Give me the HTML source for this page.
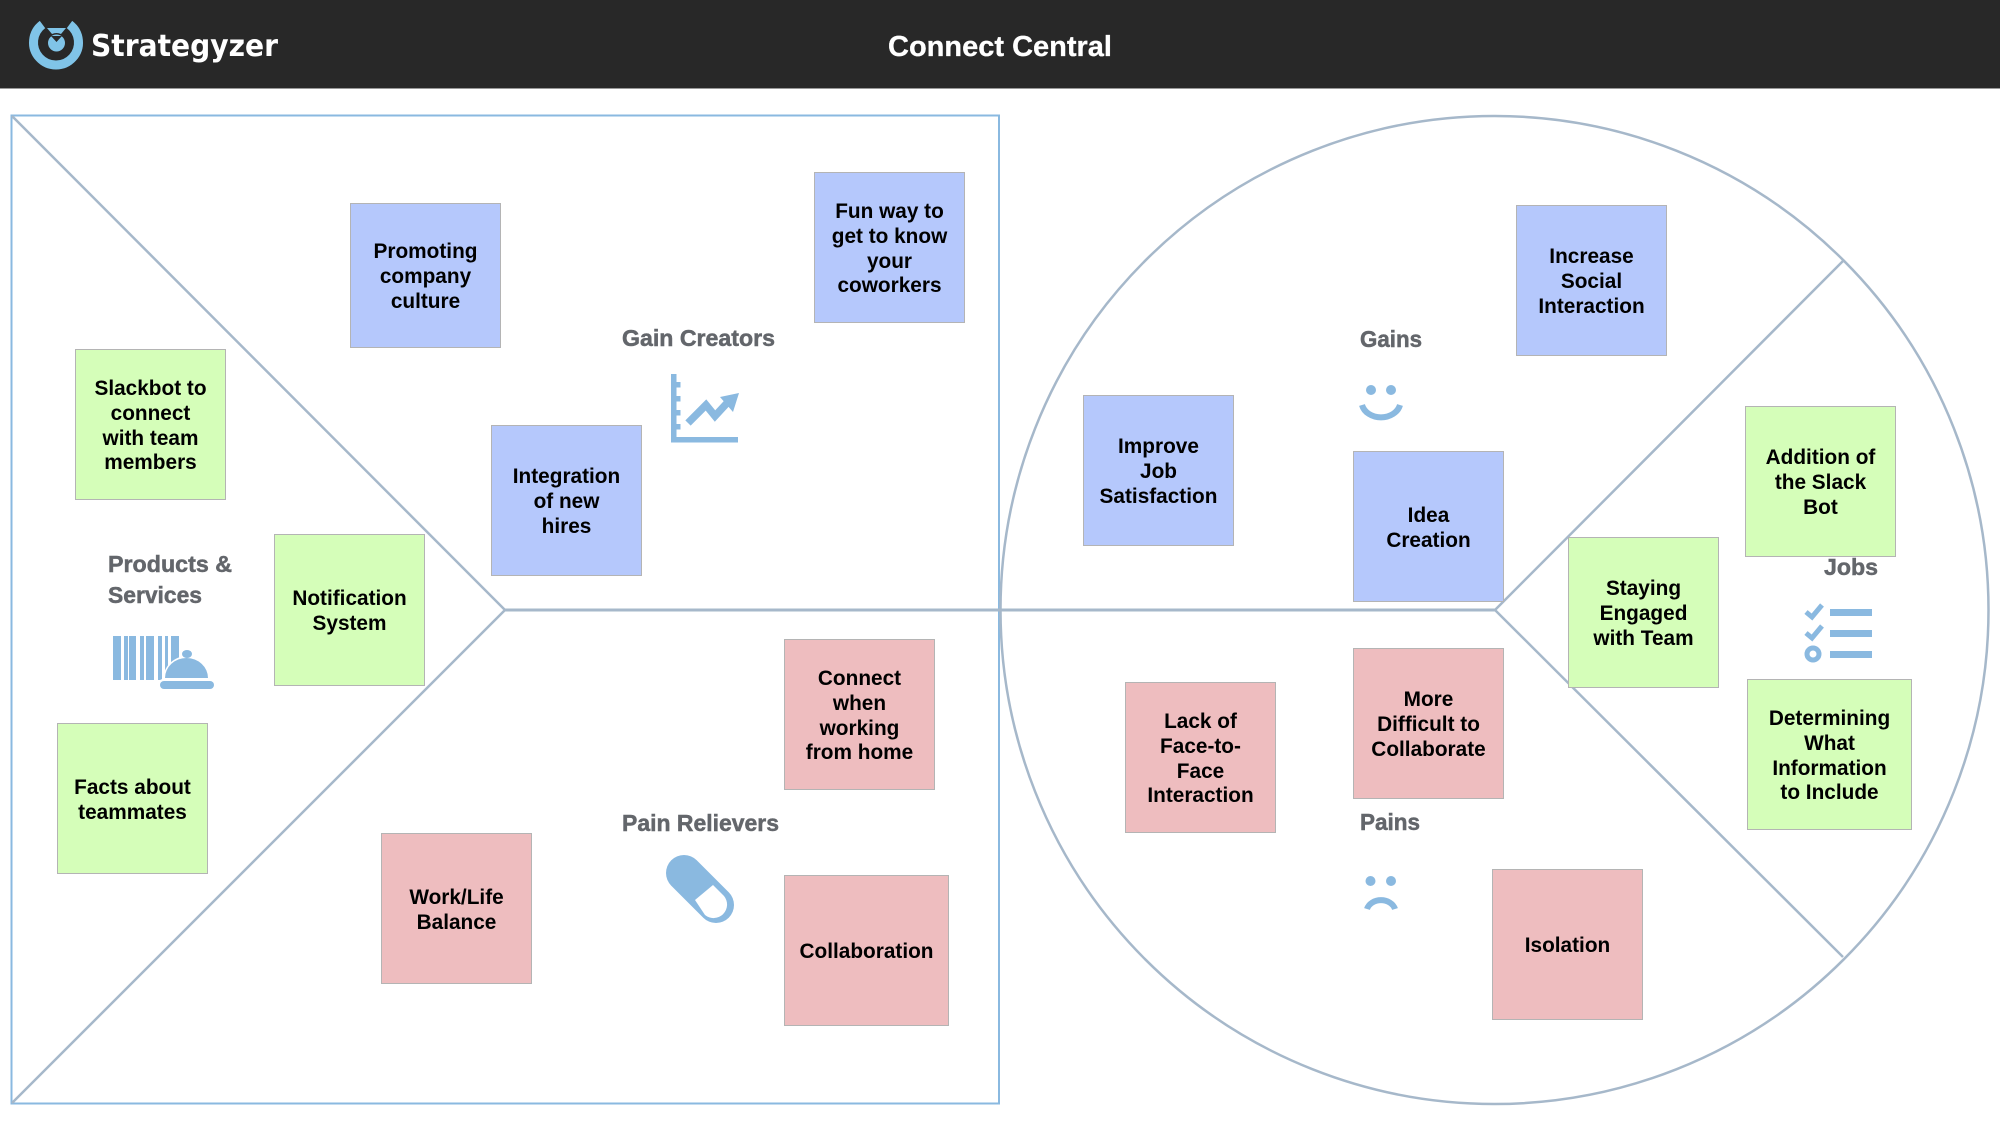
<!DOCTYPE html>
<html lang="en">
<head>
<meta charset="utf-8">
<title>Connect Central</title>
<style>
html,body{margin:0;padding:0;width:2000px;height:1125px;overflow:hidden;background:#fff;font-family:"Liberation Sans",Arial,sans-serif}
svg{position:absolute;left:0;top:0}
.s{position:absolute;box-sizing:border-box;border:1px solid #b4b4b4;display:flex;align-items:center;justify-content:center;text-align:center;font-weight:700;font-size:20.8px;line-height:24.8px;color:#000;padding-top:4px}
.b{background:#b5c8fc}.g{background:#d5feb9}.r{background:#eebdbf}
</style>
</head>
<body>
<svg width="2000" height="1125" viewBox="0 0 2000 1125" xmlns="http://www.w3.org/2000/svg">
<rect x="0" y="0" width="2000" height="88" fill="#282828"/>
<rect x="0" y="88" width="2000" height="1" fill="#999"/>
<path d="M42.500 24.500 A22.500 22.500 0 1 0 69.500 24.500" fill="none" stroke="#80c4e8" stroke-width="9"/>
<path d="M47 28 L66 28 L61 34 Q56.500 32 52 34 Z" fill="#80c4e8"/>
<circle cx="56.500" cy="43" r="8.500" fill="#80c4e8"/>
<path d="M51 36 L56.500 42 L62 36 Z" fill="#282828"/>
<text x="91" y="56" font-family="'DejaVu Sans',sans-serif" font-weight="700" font-size="30" fill="#fff" textLength="187" lengthAdjust="spacingAndGlyphs">Strategyzer</text>
<text x="888" y="56" font-family="'Liberation Sans',sans-serif" font-weight="700" font-size="29" fill="#fff" stroke="#fff" stroke-width="0.3" textLength="224" lengthAdjust="spacingAndGlyphs">Connect Central</text>

<rect x="11.500" y="115.500" width="987.500" height="988" fill="none" stroke="#8ab9e0" stroke-width="2"/>
<g fill="none" stroke="#a6b8ca" stroke-width="2.500">
<path d="M12 116 L505 610 L12 1103"/>
<path d="M505 610 L1495 610" stroke-width="3"/>
<circle cx="1494.500" cy="610" r="494"/>
<path d="M1843 261 L1495 610 L1843 957"/>
</g>

<g font-family="'Liberation Sans',sans-serif" font-weight="700" font-size="23" fill="#63666b" stroke="#63666b" stroke-width="0.5">
<text x="622" y="346" textLength="153" lengthAdjust="spacingAndGlyphs">Gain Creators</text>
<text x="108" y="572" textLength="124" lengthAdjust="spacingAndGlyphs">Products &amp;</text>
<text x="108" y="603" textLength="94" lengthAdjust="spacingAndGlyphs">Services</text>
<text x="622" y="831" textLength="157" lengthAdjust="spacingAndGlyphs">Pain Relievers</text>
<text x="1360" y="347" textLength="62" lengthAdjust="spacingAndGlyphs">Gains</text>
<text x="1360" y="830" textLength="60" lengthAdjust="spacingAndGlyphs">Pains</text>
<text x="1824" y="575" textLength="54" lengthAdjust="spacingAndGlyphs">Jobs</text>
</g>

<g fill="#8ab9e0">
<!-- chart -->
<rect x="671" y="374" width="5.500" height="68"/>
<rect x="671" y="437" width="67" height="5.500"/>
<rect x="676" y="382" width="4.500" height="5.500"/><rect x="676" y="396" width="4.500" height="5.500"/><rect x="676" y="410" width="4.500" height="5.500"/><rect x="676" y="424" width="4.500" height="5.500"/>
<path d="M688 423 L706 405 L715 416 L728 402" fill="none" stroke="#8ab9e0" stroke-width="7.500"/>
<path d="M739 393 L720 397 L733 412 Z"/>
<!-- barcode -->
<rect x="113" y="636" width="8" height="44"/><rect x="124" y="636" width="4" height="44"/><rect x="129" y="636" width="7" height="44"/><rect x="140" y="636" width="4" height="44"/><rect x="146" y="636" width="8" height="44"/><rect x="158" y="636" width="4" height="44"/><rect x="165" y="636" width="3" height="44"/><rect x="171" y="636" width="8" height="44"/>
<path d="M163 680 A24 24 0 0 1 211 680 Z" fill="#fff"/>
<ellipse cx="187" cy="654" rx="5" ry="4"/>
<path d="M165 678 A21.500 20 0 0 1 208 678 Z"/>
<rect x="158" y="679" width="58" height="12" rx="5" fill="#fff"/>
<rect x="160" y="681" width="54" height="8" rx="4"/>
<!-- pill -->
<path d="M684 873 L716 905" stroke="#8ab9e0" stroke-width="36" stroke-linecap="round"/>
<path d="M695 900 L713 885 L724 896 A13.500 13.500 0 0 1 705 915 Z" fill="#fff"/>
<!-- smile -->
<circle cx="1371" cy="390" r="5"/><circle cx="1391" cy="390" r="5"/>
<path d="M1362 405 A19.500 16 0 0 0 1400 405" fill="none" stroke="#8ab9e0" stroke-width="6"/>
<!-- frown -->
<circle cx="1370.500" cy="881" r="5"/><circle cx="1391" cy="881" r="5"/>
<path d="M1367 909 A14.500 12 0 0 1 1395 909" fill="none" stroke="#8ab9e0" stroke-width="6"/>
<!-- jobs -->
<rect x="1830" y="609" width="42" height="7"/><rect x="1830" y="630" width="42" height="7"/><rect x="1830" y="651" width="42" height="7"/>
<path d="M1806 612 L1812 617 L1822 605 M1806 633 L1812 638 L1822 626" fill="none" stroke="#8ab9e0" stroke-width="5"/>
<circle cx="1813" cy="654" r="6" fill="none" stroke="#8ab9e0" stroke-width="5"/>
</g>
</svg>

<div class="s b" style="left:350px;top:203px;width:151px;height:145px">Promoting<br>company<br>culture</div>
<div class="s b" style="left:814px;top:172px;width:151px;height:151px">Fun way to<br>get to know<br>your<br>coworkers</div>
<div class="s b" style="left:1516px;top:205px;width:151px;height:151px">Increase<br>Social<br>Interaction</div>
<div class="s b" style="left:1083px;top:395px;width:151px;height:151px">Improve<br>Job<br>Satisfaction</div>
<div class="s b" style="left:1353px;top:451px;width:151px;height:151px">Idea<br>Creation</div>
<div class="s b" style="left:491px;top:425px;width:151px;height:151px">Integration<br>of new<br>hires</div>
<div class="s g" style="left:1745px;top:406px;width:151px;height:151px">Addition of<br>the Slack<br>Bot</div>
<div class="s g" style="left:75px;top:349px;width:151px;height:151px">Slackbot to<br>connect<br>with team<br>members</div>
<div class="s g" style="left:274px;top:534px;width:151px;height:152px">Notification<br>System</div>
<div class="s g" style="left:1568px;top:537px;width:151px;height:151px">Staying<br>Engaged<br>with Team</div>
<div class="s g" style="left:1747px;top:679px;width:165px;height:151px">Determining<br>What<br>Information<br>to Include</div>
<div class="s g" style="left:57px;top:723px;width:151px;height:151px">Facts about<br>teammates</div>
<div class="s r" style="left:784px;top:639px;width:151px;height:151px">Connect<br>when<br>working<br>from home</div>
<div class="s r" style="left:1353px;top:648px;width:151px;height:151px">More<br>Difficult to<br>Collaborate</div>
<div class="s r" style="left:1125px;top:682px;width:151px;height:151px">Lack of<br>Face-to-<br>Face<br>Interaction</div>
<div class="s r" style="left:381px;top:833px;width:151px;height:151px">Work/Life<br>Balance</div>
<div class="s r" style="left:784px;top:875px;width:165px;height:151px">Collaboration</div>
<div class="s r" style="left:1492px;top:869px;width:151px;height:151px">Isolation</div>
</body>
</html>
